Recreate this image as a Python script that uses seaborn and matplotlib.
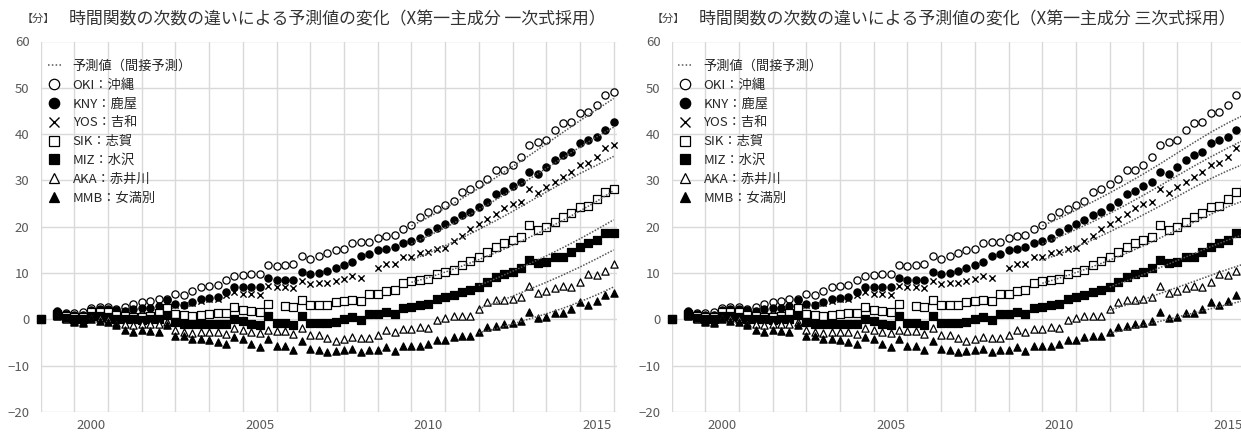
import numpy as np
import pandas as pd
import seaborn as sns
import matplotlib
matplotlib.use("Agg")
import matplotlib.pyplot as plt
from matplotlib.lines import Line2D

# quarterly observation times: 1999.0, (1999.25 missing), 1999.5 ... 2016.0
years = list(range(2000, 2016))
times = [1999.0, 1999.5, 1999.75] + [y + q for y in years for q in (0.0, 0.25, 0.5, 0.75)] + [2016.0]

nan = np.nan
oki = [0.0, 1.5, 1.3,
       1.3, 1.7, 2.4, 2.6,   2.6, 2.3, 2.6, 3.4,   3.7, 4.0, 4.3, 4.4,
       5.5, 5.3, 6.2, 7.0,   7.2, 7.5, 8.4, 9.4,   9.6, 9.7, 9.9, 11.7,
       11.6, 11.7, 11.9, 13.7,   13.1, 13.6, 14.4, 15.0,   15.3, 16.4, 16.6, 16.8,
       17.6, 17.9, 18.3, 19.6,   20.3, 22.0, 23.1, 23.9,   24.8, 25.6, 27.6, 28.2,
       29.2, 30.4, 32.2, 32.2,   33.3, 35.0, 37.6, 38.2,   38.7, 40.9, 42.4, 42.7,
       44.5, 44.8, 46.3, 48.4,
       49.1]
kny = [0.0, 1.8, 1.2,
       1.0, 1.0, 2.0, 2.2,   2.3, 2.0, 1.8, 2.3,   2.5, 2.5, 2.9, 4.2,
       3.3, 3.1, 3.7, 4.4,   4.7, 4.9, 6.0, 7.0,   7.0, 7.0, 7.0, 8.9,
       8.5, 8.5, 8.5, 10.2,   9.7, 10.1, 10.4, 11.0,   11.7, 12.4, 13.7, 14.2,
       14.9, 15.3, 15.7, 16.4,   17.0, 17.5, 18.9, 19.8,   20.6, 21.4, 22.5, 23.2,
       24.3, 25.4, 27.0, 27.8,   28.8, 29.7, 31.9, 31.4,   32.9, 34.4, 35.5, 36.2,
       38.0, 38.7, 39.4, 40.9,
       42.7]
yos = [0.0, 1.5, 1.0,
       0.8, 0.8, 1.8, 2.0,   2.0, 1.5, 1.5, 2.0,   2.0, 2.0, 2.5, 3.5,
       3.0, 3.0, 3.5, 4.0,   4.3, 4.5, 5.2, 6.0,   5.5, 5.4, 5.3, 7.2,
       7.0, 7.0, 6.8, 8.3,   7.6, 7.8, 7.9, 8.3,   8.8, 9.3, 9.0, nan,
       11.2, 11.9, 11.9, 13.4,   13.4, 14.3, 14.6, 15.2,   15.4, 16.9, 18.0, 19.6,
       20.6, 21.6, 22.7, 24.0,   25.0, 25.4, 28.1, 27.2,   28.6, 29.7, 30.8, 31.9,
       33.3, 33.7, 35.0, 36.9,
       37.6]
sik = [0.0, 1.2, 0.8,
       0.5, 0.5, 1.5, 1.5,   1.5, 1.0, 0.8, 0.6,   0.5, 0.7, 1.3, 2.4,
       1.1, 0.9, 0.8, 0.9,   1.1, 1.3, 1.3, 2.7,   2.0, 1.8, 1.6, 3.3,
       nan, 2.8, 2.6, 4.1,   3.1, 3.1, 3.1, 3.8,   4.0, 4.1, 4.0, 5.4,
       5.4, 6.2, 6.3, 7.8,   8.2, 8.4, 8.8, 9.9,   10.2, 10.7, 11.8, 12.6,
       13.4, 14.6, 15.7, 16.5,   17.1, 17.8, 20.4, 19.4,   20.0, 21.1, 22.2, 23.0,
       24.2, 24.5, 25.9, 27.6,
       28.1]
miz = [0.0, 1.0, 0.3,
       0.0, 0.0, 0.8, 0.8,   0.5, 0.0, 0.0, 0.0,   -0.2, 0.0, 0.0, 1.0,
       -0.5, -0.9, -1.1, -1.1,   -1.1, -1.1, -1.1, 0.0,   -0.4, -1.1, -1.2, 0.8,
       -0.7, -0.7, -1.2, 0.8,   -0.8, -0.8, -0.8, -0.5,   0.0, 0.5, -0.1, 1.2,
       1.2, 1.6, 1.1, 2.4,   2.6, 3.0, 3.3, 4.3,   4.8, 5.3, 5.9, 6.3,
       6.9, 8.1, 9.2, 9.8,   10.3, 11.0, 12.9, 12.1,   12.4, 13.4, 13.5, 14.6,
       15.7, 16.4, 17.1, 18.7,
       18.7]
aka = [0.0, 1.0, 0.0,
       -0.3, -0.5, 0.5, 0.3,   0.0, -0.8, -1.0, -1.2,   -1.0, -1.0, -1.0, -0.5,
       -2.4, -2.8, -3.0, -2.8,   -2.8, -2.8, -3.2, -1.9,   -2.3, -2.7, -3.0, -2.4,
       -2.6, -2.6, -3.2, -1.9,   -3.3, -3.3, -4.1, -4.7,   -4.3, -3.9, -4.0, -4.0,
       -3.3, -2.4, -2.7, -2.0,   -2.0, -1.7, -1.9, -0.2,   0.3, 0.8, 0.8, 0.8,
       2.2, 3.7, 4.1, 4.2,   4.4, 4.8, 7.2, 5.8,   6.2, 6.7, 7.2, 6.9,
       8.0, 9.7, 9.6, 10.5,
       12.0]
mmb = [0.0, 0.8, 0.2,
       -0.5, -0.7, 0.0, -0.3,   -0.5, -1.3, -2.3, -2.7,   -2.4, -2.6, -2.8, -1.3,
       -3.5, -3.5, -4.2, -4.3,   -4.5, -4.8, -5.3, -3.9,   -4.2, -5.4, -6.0, -4.2,
       -5.8, -5.8, -6.7, -4.6,   -6.4, -6.6, -7.0, -6.8,   -6.6, -6.4, -7.0, -6.6,
       -6.6, -6.0, -6.8, -5.8,   -5.8, -5.7, -5.3, -4.5,   -4.5, -3.7, -3.6, -3.6,
       -2.7, -1.6, -1.4, -1.0,   -0.7, -0.3, 1.7, 0.2,   0.6, 1.4, 1.4, 2.2,
       3.8, 3.1, 4.0, 5.3,
       5.6]

# predicted values (dotted lines), half-year steps
pred_t_upper = [2010.0, 2010.5, 2011.0, 2011.5, 2012.0, 2012.5, 2013.0,
                2013.5, 2014.0, 2014.5, 2015.0, 2015.5, 2016.0]
pred_t_lower = [2012.0, 2012.5, 2013.0, 2013.5, 2014.0, 2014.5, 2015.0, 2015.5, 2016.0]

pred_lin = {
    "OKI": [20.2, 22.0, 24.0, 26.1, 28.3, 30.6, 33.0, 35.4, 37.9, 40.4, 42.9, 45.3, 47.7],
    "KNY": [16.3, 18.0, 19.8, 21.7, 23.7, 25.8, 28.0, 30.3, 32.6, 34.9, 37.2, 39.4, 41.5],
    "YOS": [12.8, 14.3, 15.9, 17.6, 19.4, 21.3, 23.3, 25.4, 27.5, 29.5, 31.5, 33.3, 35.2],
    "SIK": [8.0, 9.0, 10.2, 11.5, 12.9, 14.4, 16.0, 17.7, 19.5, 21.4, 23.4, 25.5, 27.8],
    "MIZ": [7.3, 8.8, 10.4, 12.0, 13.7, 15.5, 17.4, 19.4, 21.5],
    "AKA": [2.3, 3.6, 5.0, 6.5, 8.0, 9.6, 11.3, 13.1, 15.0],
    "MMB": [-2.9, -2.0, -1.0, 0.1, 1.2, 2.4, 3.8, 5.3, 7.0],
}
pred_cub = {
    "OKI": [20.2, 21.8, 23.6, 25.4, 27.3, 29.3, 31.4, 33.6, 35.9, 38.2, 40.4, 42.4, 44.2],
    "KNY": [16.3, 17.8, 19.4, 21.1, 22.9, 24.8, 26.8, 28.9, 31.0, 33.1, 35.1, 37.0, 38.8],
    "YOS": [12.8, 14.1, 15.6, 17.2, 18.9, 20.7, 22.6, 24.5, 26.5, 28.5, 30.4, 32.1, 33.6],
    "SIK": [7.8, 8.9, 10.1, 11.4, 12.8, 14.3, 15.9, 17.6, 19.3, 21.0, 22.7, 24.3, 25.7],
    "MIZ": [7.0, 8.3, 9.7, 11.2, 12.7, 14.2, 15.7, 17.1, 18.4],
    "AKA": [2.0, 3.1, 4.3, 5.6, 6.9, 8.2, 9.5, 10.8, 12.0],
    "MMB": [-3.0, -2.2, -1.3, -0.4, 0.5, 1.4, 2.3, 3.2, 4.1],
}

codes = ["OKI", "KNY", "YOS", "SIK", "MIZ", "AKA", "MMB"]
names = ["沖縄", "鹿屋", "吉和", "志賀", "水沢", "赤井川", "女満別"]
series = [oki, kny, yos, sik, miz, aka, mmb]
# marker, face colour
styles = [("o", "white"), ("o", "black"), ("x", "black"), ("s", "white"),
          ("s", "black"), ("^", "white"), ("^", "black")]

titles = ["時間関数の次数の違いによる予測値の変化（X第一主成分 一次式採用）",
          "時間関数の次数の違いによる予測値の変化（X第一主成分 三次式採用）"]

obs = pd.DataFrame({"time": times})
for c, s in zip(codes, series):
    obs[c] = s

sns.set_style("whitegrid")
plt.rcParams["font.family"] = ["Noto Sans CJK JP", "DejaVu Sans"]

fig = plt.figure(figsize=(12.41, 4.32), dpi=100)
ax_pos = [[40.6 / 1241, 20 / 432, 576.4 / 1241, 370.5 / 432],
          [671.5 / 1241, 20 / 432, 576.4 / 1241, 370.5 / 432]]
preds = [pred_lin, pred_cub]

for i in range(2):
    ax = fig.add_axes(ax_pos[i])
    for c, (m, fc) in zip(codes, styles):
        if m == "x":
            sns.scatterplot(data=obs, x="time", y=c, marker="x", s=20, color="black",
                            linewidth=1.0, ax=ax, zorder=3, clip_on=False)
        else:
            sns.scatterplot(data=obs, x="time", y=c, marker=m, s=27, facecolor=fc,
                            edgecolor="black", linewidth=0.9, ax=ax, zorder=3, clip_on=False)
    for c in codes:
        pt = pred_t_upper if len(preds[i][c]) == len(pred_t_upper) else pred_t_lower
        sns.lineplot(x=pt, y=preds[i][c], ax=ax, color="#555555", linestyle=(0, (1, 1)),
                     linewidth=1.1, zorder=4, estimator=None, sort=False)

    ax.set_xlim(1999.0, 2016.1)
    ax.set_ylim(-20, 60)
    ax.set_yticks(range(-20, 61, 10))
    ax.set_xticks([2000.5, 2005.5, 2010.5, 2015.5])
    ax.set_xticklabels(["2000", "2005", "2010", "2015"])
    ax.set_xticks(range(1999, 2017), minor=True)
    ax.grid(False)
    ax.grid(True, which="minor", axis="x", color="#d9d9d9", linewidth=1.0)
    ax.grid(True, which="major", axis="y", color="#d9d9d9", linewidth=1.0)
    ax.tick_params(axis="both", which="both", length=0, labelsize=9.5, colors="#595959")
    ax.tick_params(axis="y", pad=8)
    ax.tick_params(axis="x", pad=5)
    ax.set_xlabel("")
    ax.set_ylabel("")
    for sp in ax.spines.values():
        sp.set_visible(False)

    handles = [Line2D([], [], color="#555555", linestyle=(0, (1, 1.5)), linewidth=1.1)]
    for m, fc in styles:
        if m == "x":
            handles.append(Line2D([], [], marker="x", linestyle="None", color="black",
                                  markersize=6.5, markeredgewidth=1.0))
        else:
            handles.append(Line2D([], [], marker=m, linestyle="None", markerfacecolor=fc,
                                  markeredgecolor="black", markersize=7.5, markeredgewidth=0.9))
    labels = ["予測値（間接予測）"] + [f"{c}：{n}" for c, n in zip(codes, names)]
    ax.legend(handles, labels, loc="upper left", bbox_to_anchor=(0.012, 0.95),
              frameon=False, fontsize=9.5, handlelength=1.0, handletextpad=0.9,
              labelspacing=0.44, borderaxespad=0, borderpad=0)

    x0 = 0 if i == 0 else 630
    fig.text((x0 + 22) / 1241, 1 - 19 / 432, "【分】", fontsize=8, color="#404040",
             ha="left", va="center")
    fig.text((x0 + 337) / 1241, 1 - 19 / 432, titles[i], fontsize=12.2, color="#333333",
             ha="center", va="center")

fig.savefig("out.png", dpi=100)
